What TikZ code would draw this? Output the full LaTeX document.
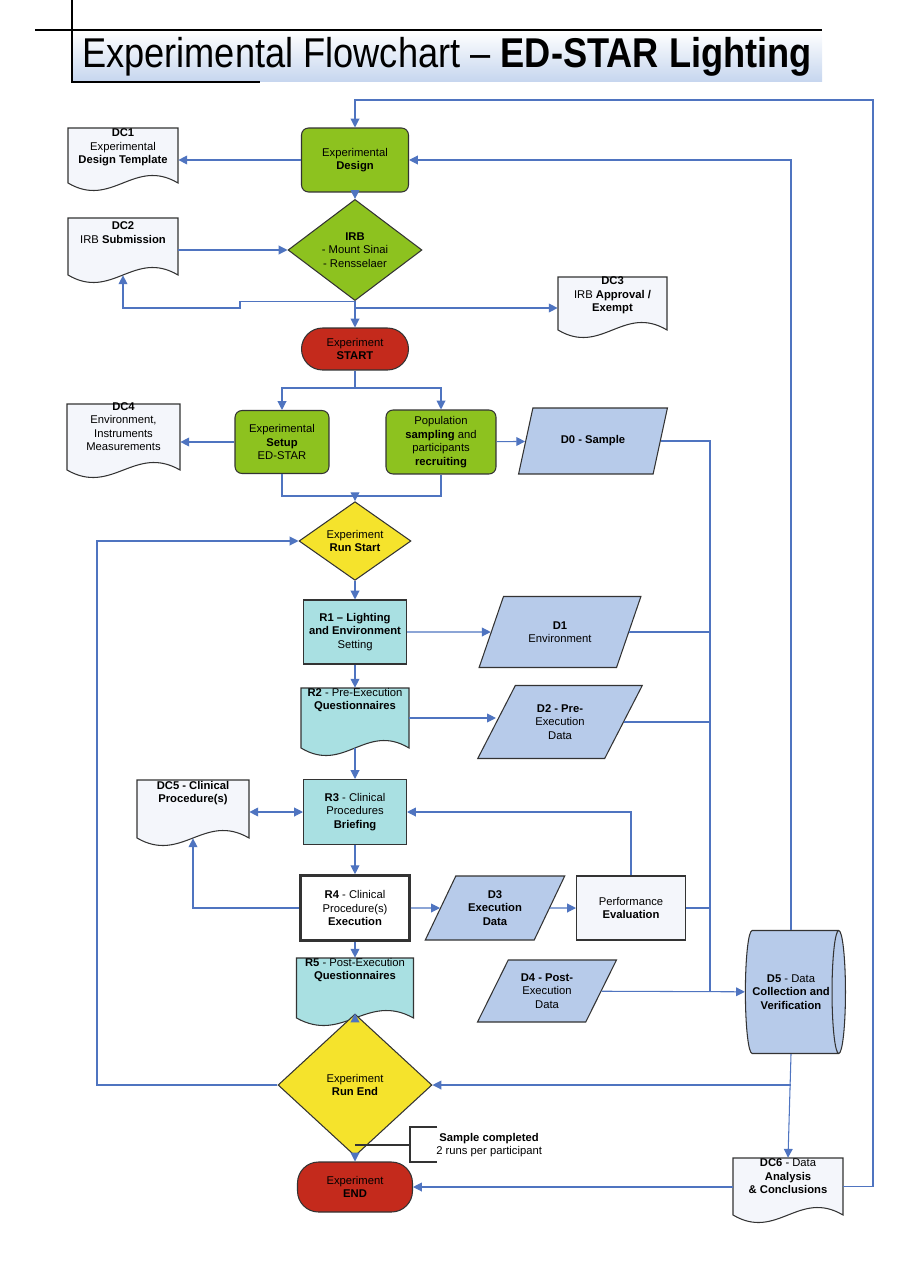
\documentclass[tikz,border=0pt]{standalone}
\usepackage{fontspec}
\setmainfont{Liberation Sans}
\usetikzlibrary{shapes.geometric,arrows.meta,positioning}

\definecolor{linkblue}{HTML}{4F74C0}
\definecolor{stepgreen}{HTML}{8DC21F}
\definecolor{stopred}{HTML}{C42A1C}
\definecolor{runyellow}{HTML}{F5E32C}
\definecolor{runteal}{HTML}{A9E0E2}
\definecolor{datablue}{HTML}{B7CBEA}
\definecolor{docwhite}{HTML}{F4F6FB}

\tikzset{
  box/.style={draw=black!80, line width=0.6pt, align=center, inner sep=1pt,
    font=\fontsize{6.4}{7.7}\selectfont},
  phase/.style={box, fill=stepgreen, rounded corners=4pt},
  halt/.style={box, fill=stopred, rounded corners=0.42cm},
  runbox/.style={box, fill=runteal},
  databox/.style={box, fill=datablue, trapezium, trapezium left angle=60,
    trapezium right angle=120, trapezium stretches=true},
  decide/.style={box, diamond, fill=runyellow, inner sep=0pt},
  datastore/.style={box, fill=datablue, cylinder, shape aspect=0.35},
  doctext/.style={align=center, inner sep=0pt, font=\fontsize{6.4}{7.7}\selectfont},
  link/.style={linkblue, line width=0.6pt},
  go/.style={link, -{Triangle[width=5pt,length=5pt]}},
}

% document shape: name, cx, cy, w, h, fill, text
\newcommand{\docnode}[7]{%
  \pgfmathsetmacro\dl{#2-#4/2}\pgfmathsetmacro\dr{#2+#4/2}%
  \pgfmathsetmacro\dt{#3-#5/2}\pgfmathsetmacro\db{#3+#5/2}%
  \pgfmathsetmacro\dcr{#2+0.1*#4}\pgfmathsetmacro\dcl{#2-0.1*#4}%
  \pgfmathsetmacro\dcu{\db-26}\pgfmathsetmacro\dcd{\db+26}%
  \pgfmathsetmacro\dw{#4*0.02}\pgfmathsetmacro\dh{#5*0.02}%
  \filldraw[draw=black!80, line width=0.6pt, fill=#6] (\dl,\dt) -- (\dr,\dt) -- (\dr,\db)
    .. controls (\dcr,\dcu) and (\dcl,\dcd) .. (\dl,\db) -- cycle;
  \node[doctext, minimum width=\dw cm, minimum height=\dh cm] (#1) at (#2,#3) {#7};
}

\begin{document}
\begin{tikzpicture}[x=0.02cm, y=-0.02cm]
  \useasboundingbox (0,0) rectangle (904,1280);

  % title
  \shade[top color=white, bottom color=datablue!80] (72,31) rectangle (822,82);
  \draw[line width=1pt] (35,30) -- (822,30);
  \draw[line width=1pt] (72,0) -- (72,82) -- (260,82);
  \node[inner sep=0pt] (title) at (447,57)
    {\resizebox*{14.6cm}{0.78cm}{Experimental Flowchart -- \textbf{ED-STAR Lighting}}};

  % design and approval
  \node[phase, minimum width=2.14cm, minimum height=1.28cm] (design) at (355,160) {Experimental\\\textbf{Design}};
  \docnode{dc1}{123}{155.5}{110}{55}{docwhite}{\textbf{DC1}\\Experimental\\\textbf{Design Template}\\[3pt]}
  \node[decide, fill=stepgreen, minimum width=2.68cm, minimum height=1.56cm] (irb) at (355,250) {\textbf{IRB}\\- Mount Sinai\\- Rensselaer};
  \docnode{dc2}{123}{246.5}{110}{57}{docwhite}{\textbf{DC2}\\IRB \textbf{Submission}\\[8pt]}
  \docnode{dc3}{612.5}{303.5}{109}{53}{docwhite}{\textbf{DC3}\\IRB \textbf{Approval /}\\\textbf{Exempt}\\[3pt]}
  \node[halt, minimum width=2.14cm, minimum height=0.84cm] (start) at (355,349) {Experiment\\\textbf{START}};

  % setup
  \node[phase, minimum width=1.88cm, minimum height=1.26cm] (setup) at (282,442) {Experimental\\\textbf{Setup}\\ED-STAR};
  \node[phase, minimum width=2.2cm, minimum height=1.28cm] (popul) at (441,442) {Population\\\textbf{sampling} and\\participants\\\textbf{recruiting}};
  \docnode{dc4}{123.5}{437}{113}{66}{docwhite}{\textbf{DC4}\\Environment,\\Instruments\\Measurements\\[4pt]}
  \node[databox, minimum width=2.98cm, minimum height=1.32cm] (d0) at (593,441) {\textbf{D0 - Sample}};

  % run
  \node[decide, minimum width=2.24cm, minimum height=1.28cm] (runstart) at (355,541) {Experiment\\\textbf{Run Start}};
  \node[runbox, minimum width=2.06cm, minimum height=1.28cm] (r1) at (355,632) {\textbf{R1 -- Lighting}\\\textbf{and Environment}\\Setting};
  \node[databox, minimum width=3.24cm, minimum height=1.42cm] (d1) at (560,632) {\textbf{D1}\\Environment};
  \docnode{r2}{355}{718}{108}{60}{runteal}{\textbf{R2} - Pre-Execution\\\textbf{Questionnaires}\\[14pt]}
  \node[databox, minimum width=3.3cm, minimum height=1.46cm] (d2) at (560,722) {\textbf{D2 - Pre-}\\Execution\\Data};
  \node[runbox, minimum width=2.06cm, minimum height=1.3cm] (r3) at (355,812) {\textbf{R3} - Clinical\\Procedures\\\textbf{Briefing}};
  \docnode{dc5}{193}{809}{112}{58}{docwhite}{\textbf{DC5 - Clinical}\\\textbf{Procedure(s)}\\[12pt]}
  \node[box, fill=white, line width=1.5pt, minimum width=2.18cm, minimum height=1.3cm] (r4) at (355,908) {\textbf{R4} - Clinical\\Procedure(s)\\\textbf{Execution}};
  \node[databox, minimum width=2.8cm, minimum height=1.28cm] (d3) at (495,908) {\textbf{D3}\\\textbf{Execution}\\\textbf{Data}};
  \node[box, fill=docwhite, minimum width=2.18cm, minimum height=1.28cm] (perf) at (631,908) {Performance\\\textbf{Evaluation}};
  \docnode{r5}{355}{988}{117}{60}{runteal}{\textbf{R5} - Post-Execution\\\textbf{Questionnaires}\\[14pt]}
  \node[databox, minimum width=2.78cm, minimum height=1.24cm] (d4) at (547,991) {\textbf{D4 - Post-}\\Execution\\Data};
  \node[datastore, minimum width=2.46cm, minimum height=1.36cm] (d5) at (791,992) {\textbf{D5} - Data\\\textbf{Collection and}\\\textbf{Verification}};
  \node[decide, minimum width=3.08cm, minimum height=2.84cm] (runend) at (355,1085) {Experiment\\\textbf{Run End}};
  \node[halt, minimum width=2.3cm, minimum height=1cm] (end) at (355,1187) {Experiment\\\textbf{END}};
  \docnode{dc6}{788}{1186.5}{110}{57}{docwhite}{\textbf{DC6} - Data\\\textbf{Analysis}\\\textbf{\& Conclusions}\\[4pt]}

  % connectors
  \coordinate (loop) at (873,100);
  \draw[go] (dc6.east) -| (loop) -| (design.north);
  \draw[go] (d5.north) |- (design.east);
  \draw[go] (design.west) -- (dc1.east |- design.west);
  \draw[go] (design) -- (irb);
  \draw[go] (dc2.east |- irb.west) -- (irb.west);
  \draw[go] (irb.south) -- (start.north);
  \coordinate (reject) at (240,308);
  \draw[go] (irb.south) -| (reject) -| (dc2.south);
  \coordinate (approve) at (355,308);
  \draw[go] (approve) -- (dc3.west |- approve);
  \coordinate (fork) at (355,388);
  \draw[link] (start.south) -- (fork);
  \draw[go] (fork) -| (setup.north);
  \draw[go] (fork) -| (popul.north);
  \draw[go] (setup.west) -- (dc4.east |- setup.west);
  \draw[go] (popul) -- (d0);
  \coordinate (join) at (355,496);
  \draw[link] (setup.south) |- (join) -| (popul.south);
  \draw[go] (join) -- (runstart.north);
  \draw[go] (runstart) -- (r1);
  \draw[go] (r1) -- (d1);
  \draw[go] (r1.south) -- (r2.north);
  \draw[go] (r2.east) -- (r2.east -| d2.west);
  \draw[go] (r2.south) -- (r3.north);
  \draw[go] (r3) -- (r4);
  \draw[{Triangle[width=5pt,length=5pt]}-{Triangle[width=5pt,length=5pt]}, link] (dc5.east |- r3.west) -- (r3.west);
  \draw[go] (r4.west) -| (dc5.south);
  \draw[go] (r4) -- (d3);
  \draw[go] (d3) -- (perf);
  \draw[go] (perf.north) |- (r3.east);
  \draw[go] (r4.south) -- (r5.north);
  \coordinate (collect) at (710,992);
  \draw[link] (d0.east) -| (collect);
  \draw[link] (d1.east) -- (d1.east -| collect);
  \draw[link] (d2.east) -- (d2.east -| collect);
  \draw[link] (perf.east) -- (perf.east -| collect);
  \draw[go] (d4) -- (d5);
  \draw[go] (r5.south) -- (runend.north);
  \draw[go] (d5.south) -- (dc6.north);
  \coordinate (back) at (791,1085);
  \draw[go] (back) -- (runend.east);
  \coordinate (again) at (97,541);
  \draw[go] (runend.west) -| (again) -- (runstart.west);
  \draw[go] (runend) -- (end);
  \draw[go] (dc6.west |- end.east) -- (end.east);

  % note
  \coordinate (note) at (355,1145);
  \draw[black!80, line width=1pt] (note) -- (410,1145);
  \draw[black!80, line width=0.6pt] (437,1127) -| (410,1162) -- (437,1162);
  \node[doctext, anchor=west] (sample) at (436,1145) {\textbf{Sample completed}\\2 runs per participant};
\end{tikzpicture}
\end{document}
